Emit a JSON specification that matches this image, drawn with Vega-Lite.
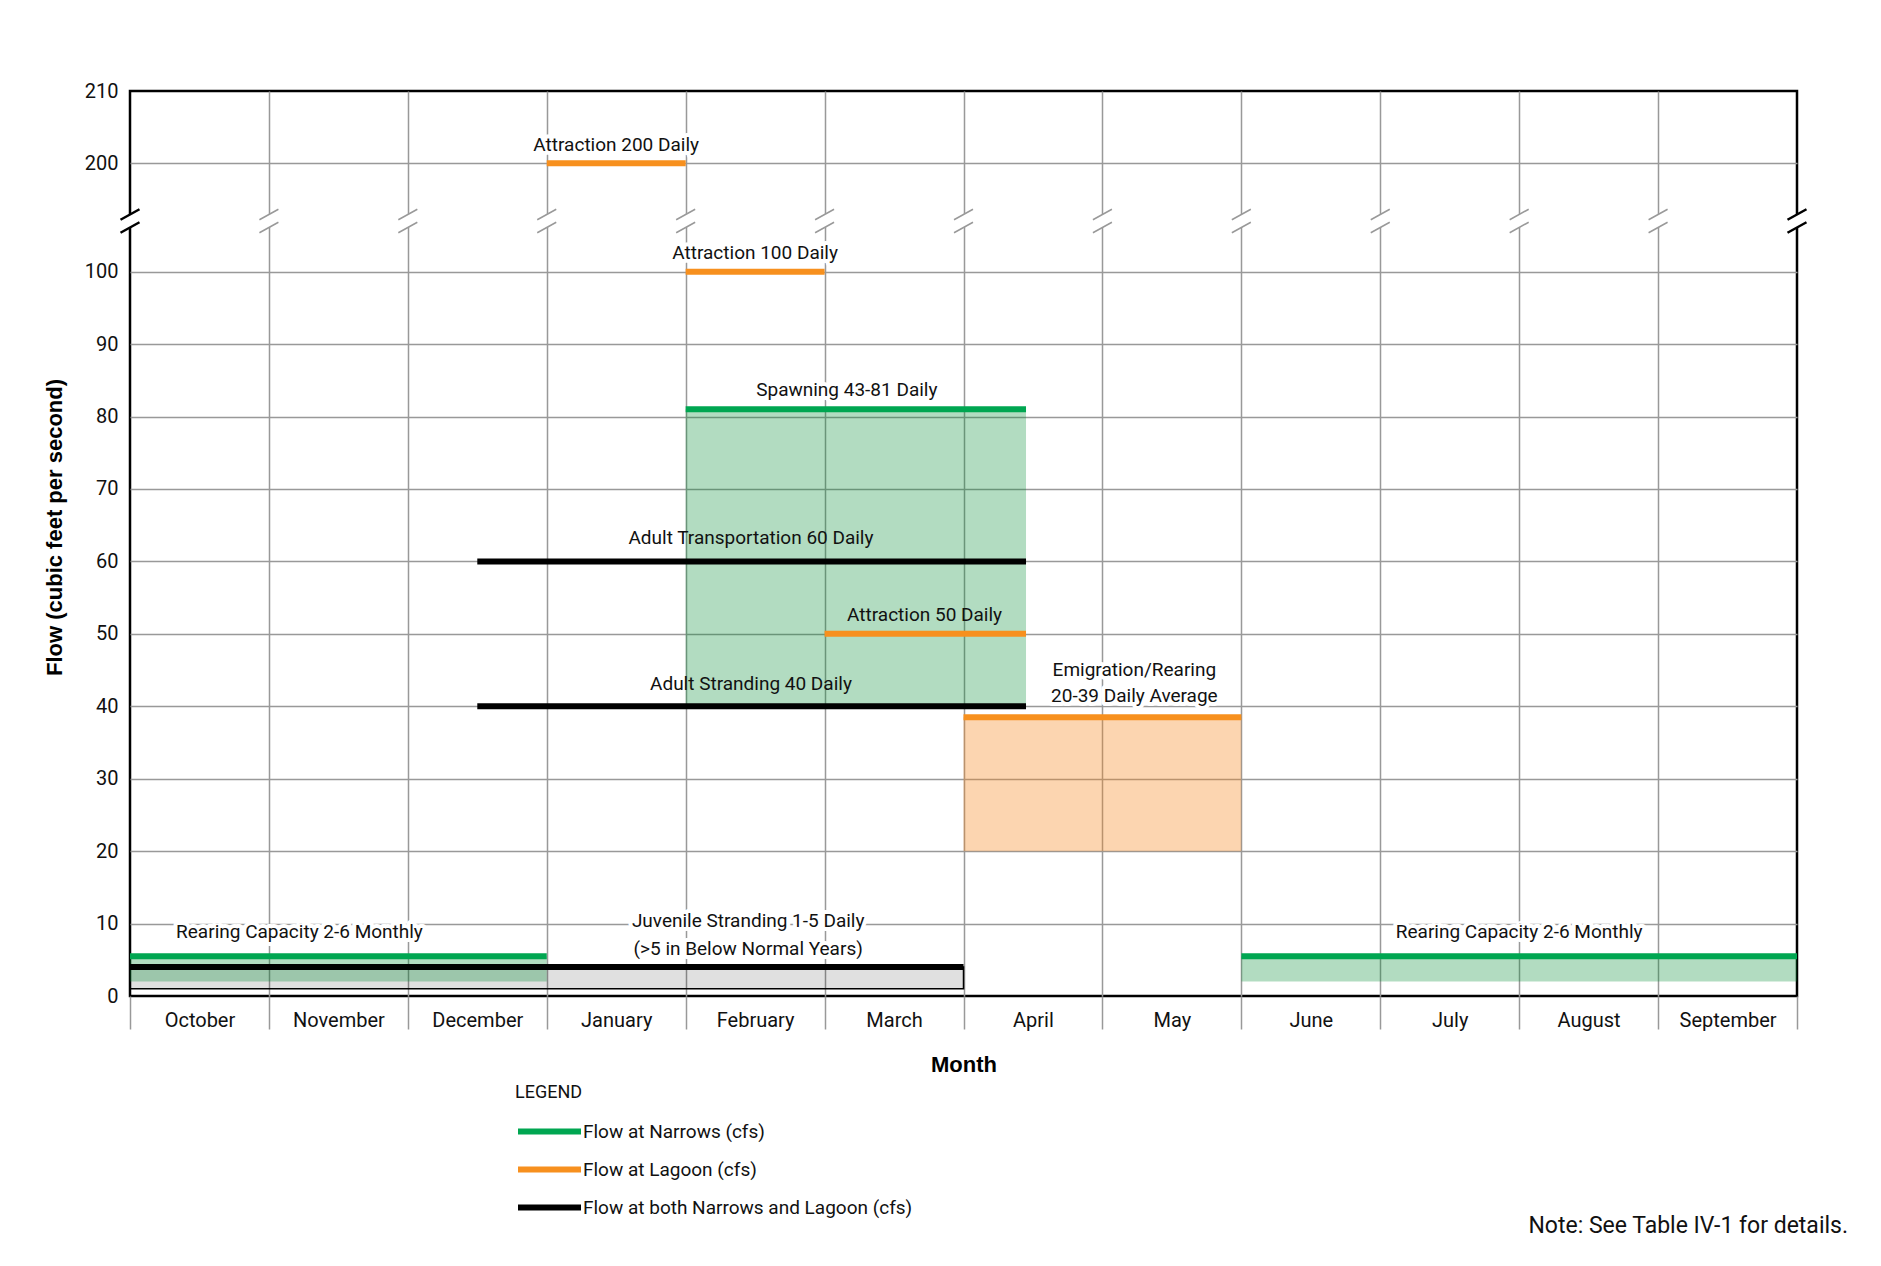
{
  "$schema": "https://vega.github.io/schema/vega-lite/v6.json",
  "width": 1667,
  "height": 905,
  "autosize": {"type": "none"},
  "padding": {"left": 130, "top": 91, "right": 84, "bottom": 270},
  "background": "white",
  "title": {
    "text": "Note: See Table IV-1 for details.",
    "orient": "bottom",
    "anchor": "end",
    "frame": "group",
    "dx": 51,
    "offset": -5,
    "font": "Roboto",
    "fontSize": 23,
    "fontWeight": "normal",
    "color": "#111"
  },
  "config": {
    "view": {"stroke": "black", "strokeWidth": 2.5},
    "font": "Roboto",
    "axis": {
      "gridColor": "#999999",
      "gridWidth": 1.5,
      "labelColor": "#111",
      "titleColor": "#000",
      "labelFont": "Roboto",
      "titleFont": "Liberation Sans",
      "titleFontSize": 22,
      "titleFontWeight": "bold"
    }
  },
  "datasets": {
    "lines": [
      {"flow": "Flow at Narrows (cfs)", "x": 0, "x2": 3, "y": 5.5},
      {"flow": "Flow at Narrows (cfs)", "x": 8, "x2": 12, "y": 5.5},
      {"flow": "Flow at Narrows (cfs)", "x": 4, "x2": 6.45, "y": 81},
      {"flow": "Flow at Lagoon (cfs)", "x": 3, "x2": 4, "y": 200},
      {"flow": "Flow at Lagoon (cfs)", "x": 4, "x2": 5, "y": 100},
      {"flow": "Flow at Lagoon (cfs)", "x": 5, "x2": 6.45, "y": 50},
      {"flow": "Flow at Lagoon (cfs)", "x": 6, "x2": 8, "y": 38.5},
      {"flow": "Flow at both Narrows and Lagoon (cfs)", "x": 2.5, "x2": 6.45, "y": 60},
      {"flow": "Flow at both Narrows and Lagoon (cfs)", "x": 2.5, "x2": 6.45, "y": 40},
      {"flow": "Flow at both Narrows and Lagoon (cfs)", "x": 0, "x2": 6, "y": 4}
    ],
    "fills": [
      {"site": "Narrows", "x": 0, "x2": 3, "y": 2, "y2": 5.5},
      {"site": "Narrows", "x": 8, "x2": 12, "y": 2, "y2": 5.5},
      {"site": "Narrows", "x": 4, "x2": 6.45, "y": 40, "y2": 81},
      {"site": "Lagoon", "x": 6, "x2": 8, "y": 20, "y2": 38.5}
    ],
    "juvenile": [
      {"site": "Both", "x": 0, "x2": 6, "y": 1, "y2": 4}
    ],
    "breaks": [
      {"x": 0, "y": 150}, {"x": 1, "y": 150}, {"x": 2, "y": 150}, {"x": 3, "y": 150},
      {"x": 4, "y": 150}, {"x": 5, "y": 150}, {"x": 6, "y": 150}, {"x": 7, "y": 150},
      {"x": 8, "y": 150}, {"x": 9, "y": 150}, {"x": 10, "y": 150}, {"x": 11, "y": 150},
      {"x": 12, "y": 150}
    ],
    "labels_boxed": [
      {"text": "Attraction 200 Daily", "x": 3.5, "y": 202.5},
      {"text": "Attraction 100 Daily", "x": 4.5, "y": 102.6},
      {"text": "Spawning 43-81 Daily", "x": 5.16, "y": 83.6},
      {"text": "Emigration/Rearing", "x": 7.23, "y": 45.0},
      {"text": "20-39 Daily Average", "x": 7.23, "y": 41.4},
      {"text": "Rearing Capacity 2-6 Monthly", "x": 1.22, "y": 8.9},
      {"text": "Rearing Capacity 2-6 Monthly", "x": 10.0, "y": 8.9},
      {"text": "Juvenile Stranding 1-5 Daily", "x": 4.45, "y": 10.3},
      {"text": "(>5 in Below Normal Years)", "x": 4.45, "y": 6.5}
    ],
    "labels_plain": [
      {"text": "Adult Transportation 60 Daily", "x": 4.47, "y": 63.2},
      {"text": "Attraction 50 Daily", "x": 5.72, "y": 52.6},
      {"text": "Adult Stranding 40 Daily", "x": 4.47, "y": 43.05}
    ]
  },
  "encoding": {
    "x": {
      "field": "x",
      "type": "quantitative",
      "scale": {"domain": [0, 12], "nice": false, "zero": false},
      "axis": {
        "title": "Month",
        "titleY": 68,
        "titleBaseline": "middle",
        "values": [0, 0.5, 1, 1.5, 2, 2.5, 3, 3.5, 4, 4.5, 5, 5.5, 6, 6.5, 7, 7.5, 8, 8.5, 9, 9.5, 10, 10.5, 11, 11.5, 12],
        "labelExpr": "datum.value % 1 === 0.5 ? ['October','November','December','January','February','March','April','May','June','July','August','September'][floor(datum.value)] : ''",
        "labelFontSize": 20,
        "labelOverlap": false,
        "labelFlush": false,
        "labelPadding": -19,
        "domain": false,
        "tickSize": 33,
        "tickColor": "#999999",
        "tickWidth": 1.5,
        "tickOpacity": {"condition": {"test": "datum.value % 1 === 0", "value": 1}, "value": 0},
        "gridOpacity": {"condition": {"test": "datum.value % 1 === 0 && datum.value > 0 && datum.value < 12", "value": 1}, "value": 0}
      }
    },
    "y": {
      "field": "y",
      "type": "quantitative",
      "scale": {"domain": [0, 107, 192, 210], "range": [905, 130, 130, 0], "nice": false, "zero": false},
      "axis": {
        "title": "Flow (cubic feet per second)",
        "titleX": -76,
        "titleY": 436,
        "titleAngle": 270,
        "titleAlign": "center",
        "titleBaseline": "middle",
        "values": [0, 10, 20, 30, 40, 50, 60, 70, 80, 90, 100, 200, 210],
        "labelFontSize": 20,
        "labelPadding": 12,
        "ticks": false,
        "domain": false,
        "gridOpacity": {"condition": {"test": "datum.value > 0 && datum.value < 210", "value": 1}, "value": 0}
      }
    }
  },
  "layer": [
    {
      "data": {"name": "juvenile"},
      "mark": {"type": "rect", "fill": "rgba(0,0,0,0.12)", "stroke": "black", "strokeWidth": 1.5},
      "encoding": {"x2": {"field": "x2"}, "y2": {"field": "y2"}}
    },
    {
      "data": {"name": "fills"},
      "mark": {"type": "rect", "strokeWidth": 0},
      "encoding": {
        "x2": {"field": "x2"},
        "y2": {"field": "y2"},
        "fill": {
          "field": "site",
          "type": "nominal",
          "scale": {"domain": ["Narrows", "Lagoon"], "range": ["rgba(0,140,50,0.3)", "rgba(245,135,30,0.35)"]},
          "legend": null
        }
      }
    },
    {
      "data": {"name": "lines"},
      "mark": {"type": "rule", "strokeWidth": 6, "strokeCap": "butt"},
      "encoding": {
        "x2": {"field": "x2"},
        "color": {
          "field": "flow",
          "type": "nominal",
          "scale": {
            "domain": ["Flow at Narrows (cfs)", "Flow at Lagoon (cfs)", "Flow at both Narrows and Lagoon (cfs)"],
            "range": ["#00A651", "#F7901E", "#000000"]
          },
          "legend": {
            "title": "LEGEND",
            "orient": "none",
            "legendX": 385,
            "legendY": 993,
            "titleFont": "Roboto",
            "titleFontSize": 18,
            "titleFontWeight": "normal",
            "titleColor": "#111",
            "titlePadding": 16,
            "symbolType": "M-1,0H5",
            "symbolSize": 441,
            "symbolStrokeWidth": 6,
            "labelFont": "Roboto",
            "labelFontSize": 19,
            "labelColor": "#111",
            "labelLimit": 0,
            "labelOffset": 41,
            "rowPadding": 12
          }
        }
      }
    },
    {
      "data": {"name": "breaks"},
      "mark": {"type": "point", "shape": "M-0.95,-0.125L0.95,-1.175L0.95,0.125L-0.95,1.175Z", "size": 400, "filled": true, "fill": "white", "strokeWidth": 0, "opacity": 1}
    },
    {
      "data": {"name": "breaks"},
      "transform": [{"filter": "datum.x > 0 && datum.x < 12"}],
      "mark": {"type": "point", "shape": "M-0.95,-0.125L0.95,-1.175M-0.95,1.175L0.95,0.125", "size": 400, "filled": false, "stroke": "#999999", "strokeWidth": 1.5, "opacity": 1}
    },
    {
      "data": {"name": "breaks"},
      "transform": [{"filter": "datum.x === 0 || datum.x === 12"}],
      "mark": {"type": "point", "shape": "M-0.95,-0.125L0.95,-1.175M-0.95,1.175L0.95,0.125", "size": 400, "filled": false, "stroke": "black", "strokeWidth": 2.5, "opacity": 1}
    },
    {
      "data": {"name": "labels_boxed"},
      "mark": {"type": "text", "font": "Roboto", "fontSize": 19, "align": "center", "baseline": "middle", "fill": "white", "stroke": "white", "strokeWidth": 8, "strokeJoin": "round"},
      "encoding": {"text": {"field": "text"}}
    },
    {
      "data": {"name": "labels_boxed"},
      "mark": {"type": "text", "font": "Roboto", "fontSize": 19, "align": "center", "baseline": "middle", "fill": "#111"},
      "encoding": {"text": {"field": "text"}}
    },
    {
      "data": {"name": "labels_plain"},
      "mark": {"type": "text", "font": "Roboto", "fontSize": 19, "align": "center", "baseline": "middle", "fill": "#111"},
      "encoding": {"text": {"field": "text"}}
    }
  ]
}
